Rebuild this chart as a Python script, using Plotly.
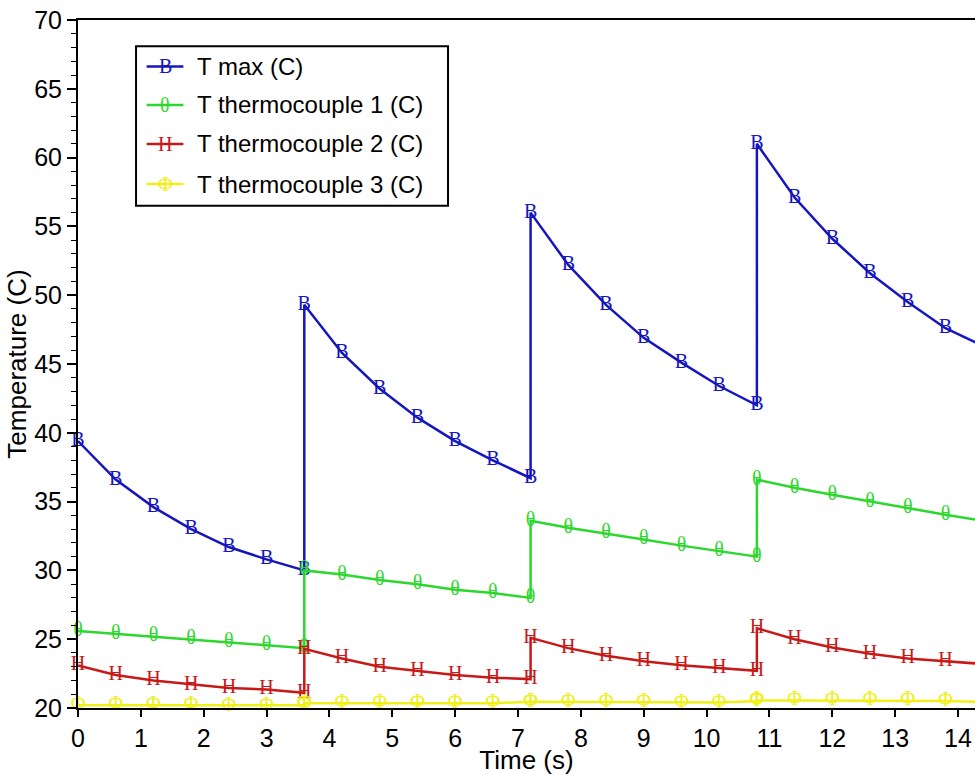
import plotly.graph_objects as go

# ---- data ----
time_s = [0, 0.6, 1.2, 1.8, 2.4, 3.0, 3.6,
          3.6, 4.2, 4.8, 5.4, 6.0, 6.6, 7.2,
          7.2, 7.8, 8.4, 9.0, 9.6, 10.2, 10.8,
          10.8, 11.4, 12.0, 12.6, 13.2, 13.8, 14.4]

t_max = [39.4, 36.6, 34.6, 33.0, 31.7, 30.8, 30.0,
         49.3, 45.8, 43.2, 41.1, 39.4, 38.0, 36.7,
         56.0, 52.2, 49.3, 46.9, 45.1, 43.4, 42.0,
         61.0, 57.1, 54.1, 51.6, 49.5, 47.6, 46.3]

t_tc1 = [25.6, 25.4, 25.2, 25.0, 24.8, 24.6, 24.35,
         30.0, 29.7, 29.3, 29.0, 28.6, 28.35, 28.0,
         33.6, 33.1, 32.7, 32.25, 31.8, 31.4, 31.0,
         36.6, 36.0, 35.5, 35.0, 34.5, 34.05, 33.6]

t_tc2 = [23.1, 22.4, 22.0, 21.7, 21.45, 21.35, 21.1,
         24.3, 23.6, 23.0, 22.7, 22.4, 22.2, 22.1,
         25.1, 24.35, 23.8, 23.4, 23.1, 22.9, 22.7,
         25.8, 25.0, 24.4, 23.95, 23.6, 23.4, 23.2]

t_tc3 = [20.2, 20.2, 20.2, 20.2, 20.15, 20.15, 20.2,
         20.35, 20.35, 20.35, 20.35, 20.35, 20.35, 20.45,
         20.45, 20.45, 20.45, 20.45, 20.4, 20.4, 20.5,
         20.55, 20.55, 20.55, 20.55, 20.55, 20.5, 20.45]

series_names = ["T max (C)", "T thermocouple 1 (C)",
                "T thermocouple 2 (C)", "T thermocouple 3 (C)"]
series_values = [t_max, t_tc1, t_tc2, t_tc3]
series_glyphs = ["B", "θ", "H", "Φ"]
series_colors = ["rgb(22,22,190)", "rgb(45,215,45)",
                 "rgb(200,25,25)", "rgb(240,240,25)"]

x_ticks = list(range(0, 15))
y_ticks = list(range(20, 75, 5))

fig = go.Figure()
for name, vals, glyph, col in zip(series_names, series_values,
                                  series_glyphs, series_colors):
    fig.add_trace(go.Scatter(
        x=time_s, y=vals, name=name, mode="lines+text",
        text=[glyph] * len(vals), textposition="middle center",
        textfont=dict(family="Liberation Serif", size=20, color=col),
        line=dict(color=col, width=2.5), cliponaxis=False, showlegend=False))

# ---- custom legend (box, sample lines, glyphs, labels) ----
L_X0, L_X1 = 0.0647, 0.4125
L_Y0, L_Y1 = 0.730, 0.962
row_y = [0.9325, 0.8765, 0.8198, 0.7616]
shapes = [dict(type="rect", xref="paper", yref="paper",
               x0=L_X0, x1=L_X1, y0=L_Y0, y1=L_Y1,
               line=dict(color="black", width=2), fillcolor="white",
               layer="above")]
annotations = []
for name, glyph, col, ry in zip(series_names, series_glyphs,
                                series_colors, row_y):
    shapes.append(dict(type="line", xref="paper", yref="paper",
                       x0=0.0765, x1=0.1175, y0=ry, y1=ry,
                       line=dict(color=col, width=2.5), layer="above"))
    annotations.append(dict(xref="paper", yref="paper", x=0.097, y=ry,
                            text=glyph, showarrow=False,
                            xanchor="center", yanchor="middle",
                            font=dict(family="Liberation Serif", size=20,
                                      color=col)))
    annotations.append(dict(xref="paper", yref="paper", x=0.1305, y=ry,
                            text=name, showarrow=False,
                            xanchor="left", yanchor="middle",
                            font=dict(family="Liberation Sans", size=24,
                                      color="black")))

fig.update_layout(
    width=975, height=775,
    margin=dict(l=78, r=0, t=20, b=67, pad=0),
    paper_bgcolor="white", plot_bgcolor="white",
    font=dict(family="Liberation Sans", color="black"),
    shapes=shapes, annotations=annotations,
    xaxis=dict(range=[0, 14.27], tickvals=x_ticks,
               ticktext=[str(v) for v in x_ticks],
               showgrid=False, zeroline=False,
               showline=True, linecolor="black", linewidth=2, mirror=True,
               ticks="outside", ticklen=7, tickwidth=1.5, tickcolor="black",
               tickfont=dict(size=25),
               title=dict(text="Time (s)", font=dict(size=26), standoff=0)),
    yaxis=dict(range=[20, 70], tickvals=y_ticks,
               ticktext=[str(v) for v in y_ticks],
               showgrid=False, zeroline=False,
               showline=True, linecolor="black", linewidth=2,
               ticks="outside", ticklen=9, tickwidth=1.5, tickcolor="black",
               tickfont=dict(size=25),
               minor=dict(dtick=1, ticks="outside", ticklen=5,
                          tickwidth=1, tickcolor="black", showgrid=False),
               title=dict(text="Temperature (C)", font=dict(size=26),
                          standoff=0)),
)

fig.write_html("out.html")
